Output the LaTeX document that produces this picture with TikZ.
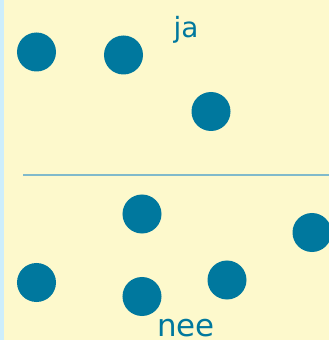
\documentclass[tikz,border=0pt]{standalone}
\usepackage{fontspec}
\setmainfont{DejaVu Sans}
\usepackage{xcolor}
\usepackage{tikz}
\definecolor{dotblue}{HTML}{00789E}
\definecolor{linblue}{HTML}{80BACB}
\definecolor{paper}{HTML}{FDF9CC}
\definecolor{edge}{HTML}{CDEEFB}

\begin{document}
\begin{tikzpicture}[x=1bp,y=1bp]
\tikzset{
dot/.style={circle,fill=dotblue,inner sep=0pt,minimum size=39bp},
word/.style={text=dotblue,anchor=base,inner sep=0pt},
split/.style={draw=linblue,line width=2.2bp}}

\useasboundingbox (0,0) rectangle (329,340);
\fill[paper] (0,0) rectangle (329,340);
\fill[edge] (0,0) rectangle (4,340);

% upper group
\node[word,font=\fontsize{28}{32}\selectfont] (ja) at (186,303) {ja};
\node[dot] (j1) at (36.5,288) {};
\node[dot] (j2) at (123.5,285) {};
\node[dot] (j3) at (211,228.5) {};

% dividing line
\coordinate (l) at (23,165);
\coordinate (r) at (329,165);
\draw[split] (l)--(r);

% lower group
\node[dot] (n1) at (142,126) {};
\node[dot] (n2) at (312,107.5) {};
\node[dot] (n3) at (36.5,57.5) {};
\node[dot] (n4) at (142,43.5) {};
\node[dot] (n5) at (227,60) {};
\node[word,font=\fontsize{31}{36}\selectfont] (nee) at (186,4) {nee};
\end{tikzpicture}
\end{document}
